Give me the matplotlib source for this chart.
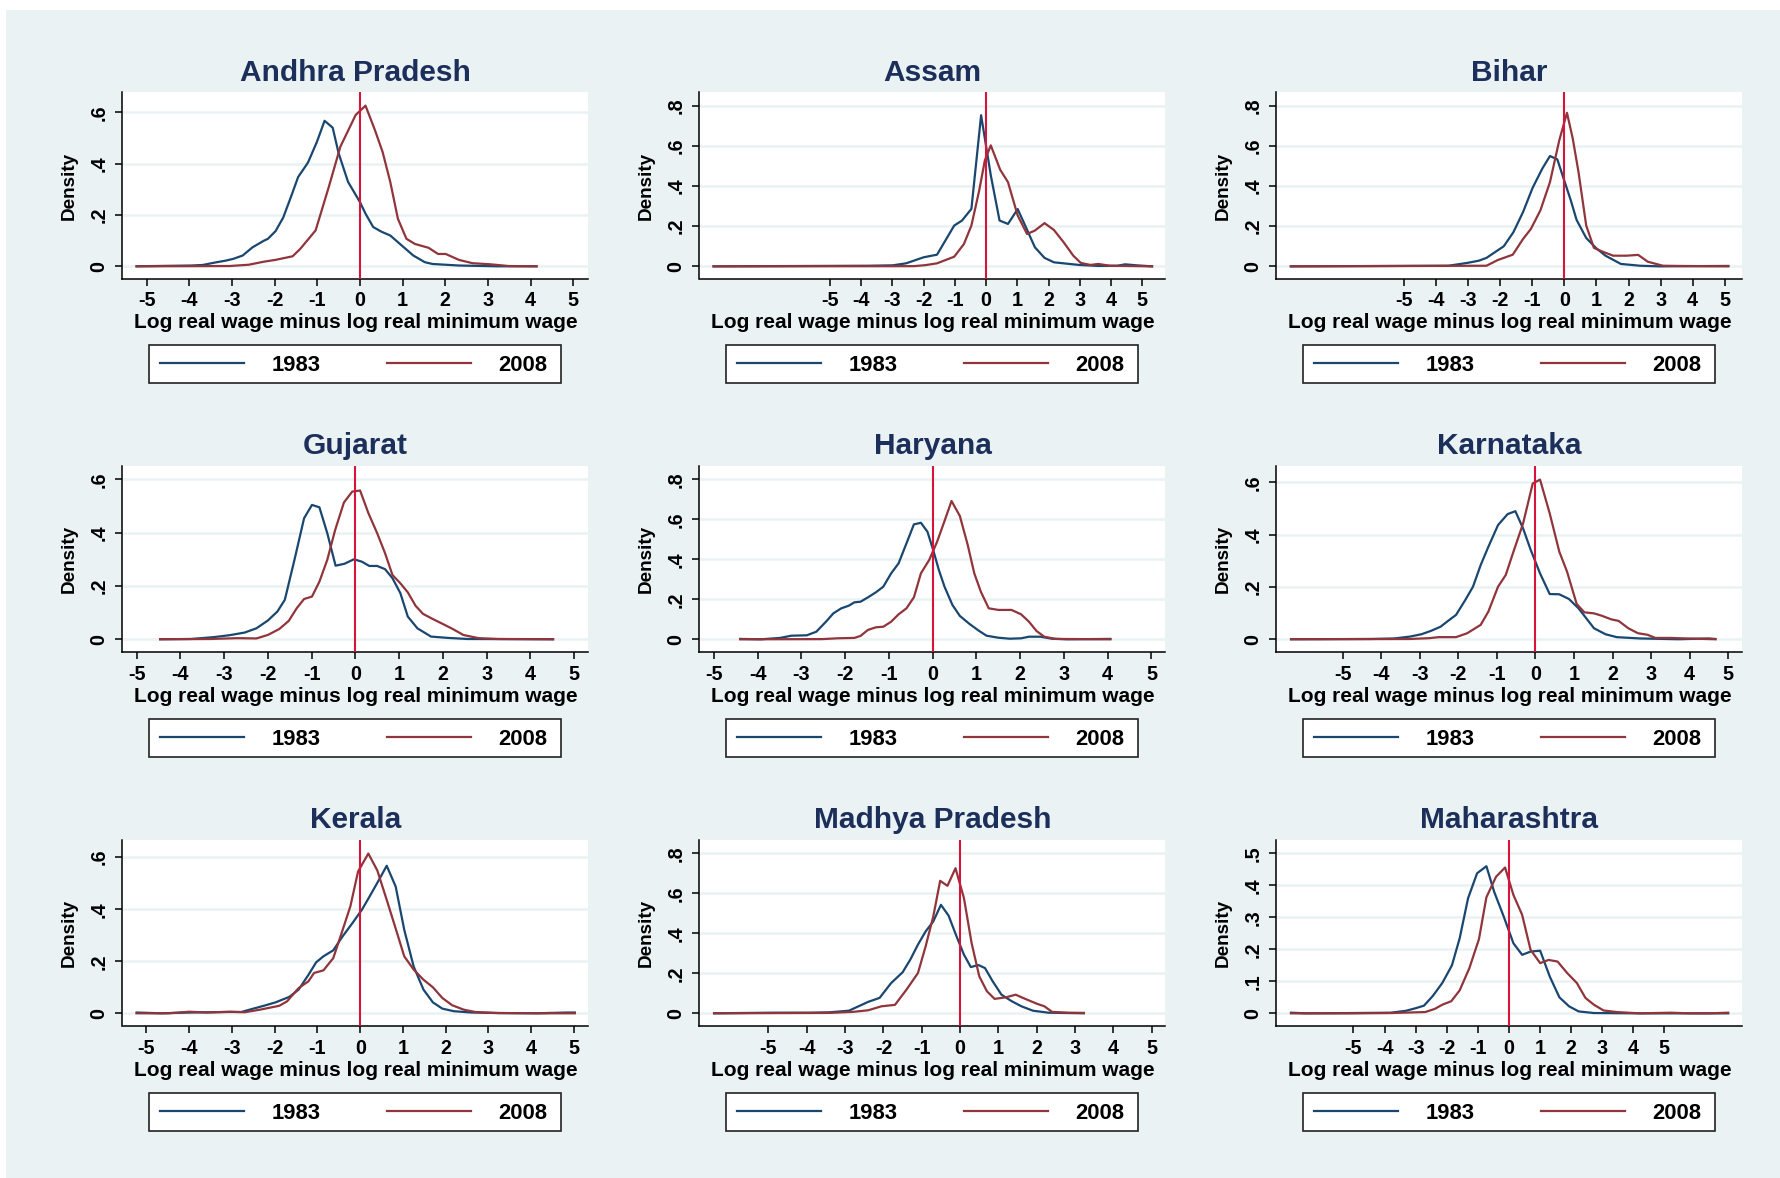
import matplotlib
matplotlib.use('Agg')
import matplotlib.pyplot as plt
from matplotlib.patches import Rectangle
from matplotlib.lines import Line2D

plt.rcParams['font.family'] = ['Liberation Sans', 'DejaVu Sans']
plt.rcParams['font.weight'] = 'bold'
plt.rcParams['axes.labelweight'] = 'bold'

# ---- data (kernel densities, log wage gap) ----
states = ['Andhra Pradesh', 'Assam', 'Bihar', 'Gujarat', 'Haryana',
          'Karnataka', 'Kerala', 'Madhya Pradesh', 'Maharashtra']
years = ['1983', '2008']

ap_x_83 = [-5.24, -3.96, -3.69, -3.42, -3.15, -2.97, -2.75, -2.52, -2.25, -2.16, -1.98, -1.80, -1.62, -1.45,
           -1.22, -1.01, -0.83, -0.64, -0.50, -0.28, 0.0, 0.13, 0.31, 0.50, 0.71, 0.98, 1.25, 1.52, 1.70, 2.32, 3.22, 4.14]
ap_y_83 = [0.0, 0.003, 0.005, 0.014, 0.022, 0.029, 0.042, 0.074, 0.10, 0.107, 0.137, 0.19, 0.27, 0.348,
           0.404, 0.485, 0.567, 0.54, 0.44, 0.329, 0.25, 0.205, 0.153, 0.135, 0.12, 0.081, 0.042, 0.016, 0.009, 0.003, 0.0, 0.0]
ap_x_08 = [-5.24, -3.06, -2.61, -2.25, -1.98, -1.58, -1.40, -1.04, -0.73, -0.46, -0.10, 0.13, 0.35, 0.53,
           0.71, 0.89, 1.09, 1.29, 1.61, 1.83, 2.01, 2.32, 2.64, 3.04, 3.49, 4.14]
ap_y_08 = [0.0, 0.001, 0.006, 0.018, 0.025, 0.039, 0.068, 0.14, 0.31, 0.466, 0.59, 0.626, 0.531, 0.446,
           0.329, 0.185, 0.107, 0.087, 0.072, 0.048, 0.048, 0.025, 0.012, 0.008, 0.001, 0.0]

as_x_83 = [-8.72, -3.78, -2.99, -2.56, -2.00, -1.57, -1.02, -0.77, -0.47, -0.16, 0.15, 0.43, 0.70, 1.01,
           1.25, 1.56, 1.87, 2.17, 2.97, 3.59, 4.20, 4.45, 4.82, 5.31]
as_y_83 = [0.0, 0.003, 0.005, 0.015, 0.045, 0.058, 0.203, 0.228, 0.286, 0.752, 0.453, 0.228, 0.211, 0.285,
           0.203, 0.095, 0.042, 0.02, 0.007, 0.002, 0.003, 0.01, 0.005, 0.0]
as_x_08 = [-8.72, -2.31, -1.94, -1.57, -1.02, -0.71, -0.47, -0.22, -0.04, 0.15, 0.45, 0.70, 1.01, 1.31,
           1.56, 1.87, 2.17, 2.48, 2.79, 3.03, 3.34, 3.59, 3.96, 5.31]
as_y_08 = [0.0, 0.001, 0.006, 0.015, 0.048, 0.111, 0.203, 0.378, 0.527, 0.602, 0.481, 0.419, 0.253, 0.161,
           0.178, 0.215, 0.181, 0.12, 0.053, 0.017, 0.007, 0.012, 0.003, 0.0]

bi_x_83 = [-8.53, -3.62, -3.03, -2.67, -2.43, -1.89, -1.59, -1.29, -0.99, -0.69, -0.45, -0.22, -0.04, 0.20,
           0.38, 0.68, 0.98, 1.28, 1.76, 2.36, 2.95, 5.11]
bi_y_83 = [0.0, 0.003, 0.017, 0.028, 0.042, 0.10, 0.17, 0.27, 0.391, 0.486, 0.549, 0.532, 0.444, 0.328,
           0.231, 0.141, 0.092, 0.053, 0.012, 0.003, 0.0, 0.002]
bi_x_08 = [-8.53, -2.43, -2.07, -1.89, -1.61, -1.29, -1.05, -0.75, -0.45, -0.16, 0.08, 0.26, 0.44, 0.68,
           0.92, 1.16, 1.52, 1.94, 2.30, 2.60, 3.07, 3.55, 5.11]
bi_y_08 = [0.0, 0.003, 0.032, 0.042, 0.058, 0.136, 0.185, 0.278, 0.419, 0.627, 0.764, 0.636, 0.469, 0.203,
           0.092, 0.075, 0.053, 0.053, 0.057, 0.023, 0.003, 0.002, 0.0]

gu_x_83 = [-4.46, -3.75, -3.23, -2.88, -2.53, -2.26, -2.0, -1.78, -1.61, -1.39, -1.17, -0.99, -0.82, -0.64,
           -0.45, -0.25, -0.03, 0.15, 0.32, 0.50, 0.68, 0.85, 1.03, 1.20, 1.42, 1.73, 2.12, 2.56, 4.52]
gu_y_83 = [0.0, 0.001, 0.008, 0.015, 0.025, 0.041, 0.07, 0.104, 0.148, 0.298, 0.454, 0.504, 0.495, 0.398,
           0.276, 0.283, 0.30, 0.291, 0.275, 0.275, 0.263, 0.229, 0.173, 0.085, 0.041, 0.01, 0.005, 0.001, 0.0]
gu_x_08 = [-4.46, -3.32, -2.70, -2.26, -2.0, -1.74, -1.52, -1.34, -1.17, -0.99, -0.82, -0.64, -0.46, -0.26,
           -0.07, 0.11, 0.30, 0.50, 0.68, 0.85, 1.03, 1.20, 1.38, 1.55, 1.77, 2.04, 2.21, 2.47, 2.82, 3.26, 4.52]
gu_y_08 = [0.0, 0.001, 0.004, 0.003, 0.016, 0.038, 0.069, 0.116, 0.151, 0.16, 0.216, 0.298, 0.41, 0.513,
           0.554, 0.558, 0.473, 0.398, 0.323, 0.241, 0.21, 0.176, 0.125, 0.095, 0.076, 0.054, 0.04, 0.016, 0.004, 0.001, 0.0]

ha_x_83 = [-4.40, -3.93, -3.49, -3.23, -2.88, -2.66, -2.44, -2.27, -2.09, -1.92, -1.79, -1.65, -1.48, -1.30,
           -1.13, -0.95, -0.78, -0.60, -0.43, -0.27, -0.12, 0.01, 0.14, 0.27, 0.45, 0.62, 0.84, 1.06, 1.23,
           1.50, 1.76, 2.02, 2.20, 2.46, 2.72, 3.07, 4.06]
ha_y_83 = [0.002, 0.0, 0.007, 0.018, 0.02, 0.038, 0.088, 0.13, 0.155, 0.168, 0.185, 0.188, 0.21, 0.235,
           0.263, 0.33, 0.38, 0.48, 0.575, 0.583, 0.538, 0.447, 0.347, 0.263, 0.172, 0.117, 0.077, 0.042, 0.018,
           0.008, 0.003, 0.005, 0.013, 0.013, 0.003, 0.0, 0.002]
ha_x_08 = [-4.40, -2.53, -2.18, -1.79, -1.65, -1.48, -1.30, -1.13, -0.95, -0.78, -0.60, -0.43, -0.27, -0.08,
           0.10, 0.27, 0.43, 0.62, 0.80, 0.95, 1.10, 1.28, 1.50, 1.80, 2.02, 2.20, 2.37, 2.55, 2.81, 4.06]
ha_y_08 = [0.0, 0.001, 0.005, 0.007, 0.017, 0.047, 0.06, 0.063, 0.088, 0.125, 0.155, 0.21, 0.33, 0.397,
           0.488, 0.592, 0.692, 0.617, 0.472, 0.33, 0.238, 0.155, 0.147, 0.147, 0.125, 0.088, 0.042, 0.013, 0.002, 0.0]

ka_x_83 = [-6.34, -4.25, -3.66, -3.26, -2.96, -2.71, -2.46, -2.26, -2.06, -1.82, -1.62, -1.42, -1.22, -0.97,
           -0.72, -0.52, -0.32, -0.12, 0.12, 0.37, 0.62, 0.87, 1.12, 1.52, 1.82, 2.11, 2.71, 3.71, 4.50, 4.67]
ka_y_83 = [0.0, 0.001, 0.003, 0.01, 0.019, 0.032, 0.048, 0.071, 0.093, 0.15, 0.201, 0.284, 0.354, 0.437,
           0.479, 0.49, 0.424, 0.341, 0.252, 0.173, 0.172, 0.154, 0.118, 0.042, 0.019, 0.008, 0.003, 0.0, 0.003, 0.001]
ka_x_08 = [-6.34, -3.26, -2.76, -2.51, -2.06, -1.77, -1.42, -1.22, -0.97, -0.77, -0.57, -0.32, -0.07, 0.12,
           0.37, 0.62, 0.82, 1.07, 1.27, 1.52, 1.72, 1.97, 2.16, 2.41, 2.66, 2.91, 3.11, 3.51, 3.91, 4.67]
ka_y_08 = [0.0, 0.001, 0.004, 0.008, 0.008, 0.023, 0.055, 0.106, 0.201, 0.246, 0.335, 0.443, 0.596, 0.611,
           0.482, 0.335, 0.259, 0.135, 0.103, 0.099, 0.09, 0.076, 0.07, 0.042, 0.023, 0.017, 0.005, 0.005, 0.003, 0.0]

ke_x_83 = [-5.23, -4.67, -3.95, -3.50, -3.05, -2.78, -2.52, -2.25, -1.98, -1.66, -1.44, -1.21, -1.03, -0.86,
           -0.63, -0.41, -0.18, 0.04, 0.22, 0.44, 0.62, 0.83, 1.03, 1.25, 1.48, 1.70, 1.92, 2.19, 2.60, 3.22,
           4.12, 4.84, 5.02]
ke_y_83 = [0.003, 0.0, 0.003, 0.004, 0.005, 0.005, 0.017, 0.029, 0.042, 0.063, 0.091, 0.148, 0.196, 0.219,
           0.242, 0.296, 0.347, 0.398, 0.449, 0.513, 0.567, 0.487, 0.321, 0.18, 0.091, 0.042, 0.018, 0.008, 0.003, 0.001,
           0.0, 0.003, 0.003]
ke_x_08 = [-5.23, -4.49, -4.0, -3.59, -3.05, -2.70, -2.34, -1.89, -1.71, -1.44, -1.21, -1.08, -0.86, -0.63,
           -0.41, -0.23, -0.05, 0.19, 0.40, 0.62, 0.85, 1.03, 1.25, 1.48, 1.70, 1.92, 2.15, 2.42, 2.69, 3.22, 4.12, 5.02]
ke_y_08 = [0.0, 0.0, 0.006, 0.003, 0.006, 0.004, 0.014, 0.029, 0.046, 0.097, 0.123, 0.155, 0.165, 0.212,
           0.321, 0.411, 0.545, 0.614, 0.549, 0.436, 0.315, 0.219, 0.168, 0.129, 0.1, 0.059, 0.031, 0.014, 0.005, 0.001, 0.0, 0.0]

mp_x_83 = [-6.42, -4.90, -3.90, -3.40, -2.90, -2.65, -2.40, -2.10, -1.80, -1.50, -1.30, -1.10, -0.90, -0.70,
           -0.50, -0.30, -0.10, 0.10, 0.28, 0.48, 0.65, 0.85, 1.08, 1.35, 1.60, 1.90, 2.30, 3.23]
mp_y_83 = [0.0, 0.003, 0.003, 0.005, 0.013, 0.035, 0.057, 0.077, 0.151, 0.205, 0.268, 0.343, 0.409, 0.459,
           0.542, 0.488, 0.388, 0.293, 0.231, 0.241, 0.226, 0.16, 0.093, 0.06, 0.035, 0.013, 0.003, 0.0]
mp_x_08 = [-6.42, -3.40, -2.80, -2.40, -2.05, -1.70, -1.40, -1.10, -0.90, -0.70, -0.52, -0.33, -0.12, 0.10,
           0.30, 0.50, 0.70, 0.90, 1.20, 1.45, 1.70, 2.00, 2.20, 2.40, 2.80, 3.23]
mp_y_08 = [0.0, 0.002, 0.007, 0.015, 0.035, 0.042, 0.118, 0.201, 0.334, 0.484, 0.662, 0.637, 0.725, 0.576,
           0.351, 0.185, 0.11, 0.072, 0.08, 0.093, 0.072, 0.048, 0.035, 0.007, 0.003, 0.002]

mh_x_83 = [-7.01, -6.52, -5.04, -3.80, -3.31, -3.0, -2.73, -2.44, -2.14, -1.83, -1.58, -1.31, -1.02, -0.72,
           -0.47, -0.16, 0.15, 0.43, 0.70, 1.01, 1.32, 1.63, 1.94, 2.25, 2.74, 4.22, 7.06]
mh_y_83 = [0.002, 0.0, 0.001, 0.002, 0.008, 0.016, 0.024, 0.055, 0.095, 0.15, 0.235, 0.36, 0.438, 0.46,
           0.38, 0.302, 0.219, 0.183, 0.193, 0.196, 0.115, 0.05, 0.022, 0.006, 0.001, 0.0, 0.0]
mh_x_08 = [-7.01, -5.04, -3.80, -2.69, -2.38, -2.14, -1.85, -1.58, -1.27, -0.96, -0.72, -0.41, -0.12, 0.15,
           0.43, 0.70, 1.01, 1.28, 1.57, 1.88, 2.19, 2.47, 2.74, 3.05, 3.48, 4.22, 5.21, 5.83, 6.44, 7.06]
mh_y_08 = [0.0, 0.0, 0.001, 0.004, 0.014, 0.027, 0.038, 0.072, 0.141, 0.232, 0.363, 0.427, 0.456, 0.37,
           0.308, 0.199, 0.157, 0.167, 0.162, 0.126, 0.095, 0.048, 0.027, 0.009, 0.004, 0.0, 0.002, 0.0, 0.0, 0.002]

curves_1983 = [(ap_x_83, ap_y_83), (as_x_83, as_y_83), (bi_x_83, bi_y_83), (gu_x_83, gu_y_83), (ha_x_83, ha_y_83),
               (ka_x_83, ka_y_83), (ke_x_83, ke_y_83), (mp_x_83, mp_y_83), (mh_x_83, mh_y_83)]
curves_2008 = [(ap_x_08, ap_y_08), (as_x_08, as_y_08), (bi_x_08, bi_y_08), (gu_x_08, gu_y_08), (ha_x_08, ha_y_08),
               (ka_x_08, ka_y_08), (ke_x_08, ke_y_08), (mp_x_08, mp_y_08), (mh_x_08, mh_y_08)]

x_ticks = [-5, -4, -3, -2, -1, 0, 1, 2, 3, 4, 5]
y_ticks_06 = [0, 0.2, 0.4, 0.6]
y_ticks_08 = [0, 0.2, 0.4, 0.6, 0.8]
y_ticks_05 = [0, 0.1, 0.2, 0.3, 0.4, 0.5]
y_ticks = [y_ticks_06, y_ticks_08, y_ticks_08, y_ticks_06, y_ticks_08,
           y_ticks_06, y_ticks_06, y_ticks_08, y_ticks_05]

xlims = [(-5.57, 5.36), (-9.17, 5.74), (-8.98, 5.55), (-5.32, 5.33), (-5.33, 5.32),
         (-6.72, 5.37), (-5.56, 5.34), (-6.80, 5.36), (-7.48, 7.52)]
ylims = [(-0.048, 0.678), (-0.061, 0.866), (-0.061, 0.866), (-0.049, 0.65), (-0.065, 0.867),
         (-0.05, 0.663), (-0.05, 0.666), (-0.065, 0.866), (-0.0405, 0.542)]

# ---- layout (pixels) ----
W, H = 1781, 1178
BLUE, RED, VRED = '#1A476F', '#90353B', '#D7143C'
BG = '#EAF2F3'
TITLE_C = '#1C2E5A'
col_left = [122.5, 699.5, 1276.4]
row_top = [92.3, 466.0, 840.0]
pw, ph = 466.0, 186.3


def fx(x):
    return x / W


def fy(y):
    return 1 - y / H


fig = plt.figure(figsize=(W / 100, H / 100), dpi=100)
fig.patch.set_facecolor('white')
fig.add_artist(Rectangle((fx(5.7), 0), 1, fy(10), transform=fig.transFigure,
                         facecolor=BG, edgecolor='none', zorder=0))


def ytick_label(v):
    return '0' if v == 0 else ('%.1f' % v)[1:]


for i, name in enumerate(states):
    r, c = divmod(i, 3)
    left, top = col_left[c], row_top[r]
    ax = fig.add_axes([fx(left), fy(top + ph), pw / W, ph / H])
    ax.set_facecolor('white')
    for s in ['top', 'right']:
        ax.spines[s].set_visible(False)
    for s in ['left', 'bottom']:
        ax.spines[s].set_linewidth(1.1)
        ax.spines[s].set_color('black')

    ax.grid(axis='y', color=BG, linewidth=1.8)
    ax.set_axisbelow(True)

    x83, y83 = curves_1983[i]
    x08, y08 = curves_2008[i]
    ax.plot(x83, y83, color=BLUE, lw=1.6, zorder=3)
    ax.plot(x08, y08, color=RED, lw=1.6, zorder=3)
    ax.axvline(0, color=VRED, lw=1.5, zorder=4)

    ax.set_xlim(*xlims[i])
    ax.set_ylim(*ylims[i])
    ax.set_xticks(x_ticks)
    ax.set_xticklabels([str(v) for v in x_ticks])
    ax.set_yticks(y_ticks[i])
    ax.set_yticklabels([ytick_label(v) for v in y_ticks[i]])
    ax.tick_params(axis='both', direction='out', length=5.2, width=1.1, labelsize=14.2, colors='black')
    ax.tick_params(axis='x', pad=4.0)
    ax.tick_params(axis='y', pad=5.0, labelrotation=90)
    for lbl in ax.get_yticklabels():
        lbl.set_va('center')

    ax.set_title(name, fontsize=21.5, color=TITLE_C, fontweight='bold', pad=8.3)
    ax.set_xlabel('Log real wage minus log real minimum wage', fontsize=15)
    ax.xaxis.set_label_coords(0.5, -(313 - 278.3) / ph)
    ax.set_ylabel('Density', fontsize=13.6)
    ax.yaxis.set_label_coords(-(122.5 - 77.5) / pw, 0.5)

    # legend box below each panel
    lx = left + 26.7
    ly = top + ph + 66.3
    fig.add_artist(Rectangle((fx(lx), fy(ly + 38.4)), 411.5 / W, 38.4 / H, transform=fig.transFigure,
                             facecolor='white', edgecolor='#222222', lw=1.2, zorder=2))
    yl = fy(ly + 18.5)
    fig.add_artist(Line2D([fx(lx + 10.8), fx(lx + 94.6)], [yl, yl], color=BLUE, lw=1.6,
                          transform=fig.transFigure, zorder=3))
    fig.add_artist(Line2D([fx(lx + 238), fx(lx + 321.5)], [yl, yl], color=RED, lw=1.6,
                          transform=fig.transFigure, zorder=3))
    fig.text(fx(lx + 122.5), fy(ly + 26), years[0], fontsize=15.8, ha='left', va='baseline', zorder=4)
    fig.text(fx(lx + 349.4), fy(ly + 26), years[1], fontsize=15.8, ha='left', va='baseline', zorder=4)

fig.savefig('out.png', dpi=100, facecolor=fig.get_facecolor())
